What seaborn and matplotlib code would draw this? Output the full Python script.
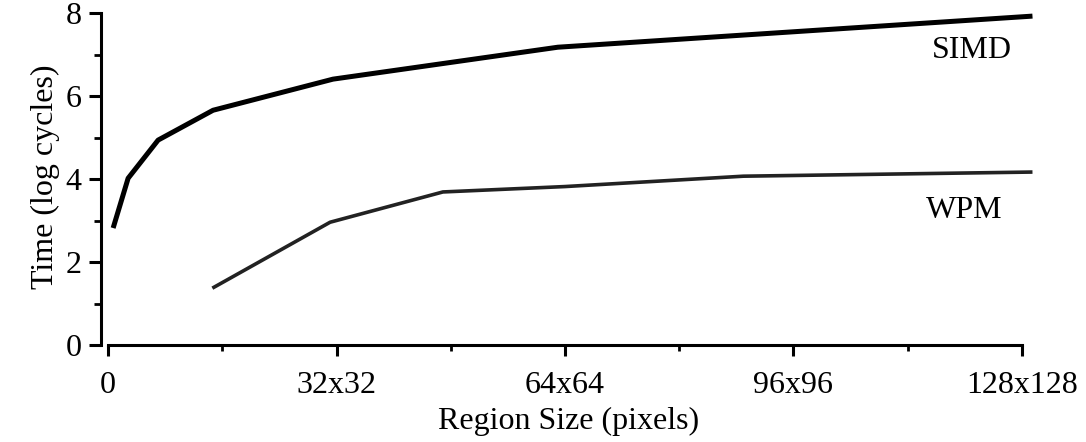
import matplotlib
matplotlib.use("Agg")
import matplotlib.pyplot as plt
from matplotlib.ticker import MultipleLocator, FixedLocator
import pandas as pd
import seaborn as sns

# Execution time (log cycles) versus region side length
simd_size = [0.7, 2.8, 7.0, 14.7, 31.5, 63.0, 129.5]
simd_time = [2.82, 4.02, 4.94, 5.66, 6.41, 7.18, 7.93]

wpm_size = [14.6, 31.1, 46.9, 64.0, 89.0, 129.5]
wpm_time = [1.37, 2.96, 3.69, 3.82, 4.07, 4.17]

x_ticks = [0, 32, 64, 96, 128]
x_tick_labels = ["0", "32x32", "64x64", "96x96", "128x128"]
y_ticks = [0, 2, 4, 6, 8]

sns.set_style("ticks")
plt.rcParams["font.family"] = ["Liberation Serif", "DejaVu Serif"]
plt.rcParams["font.size"] = 23
for key in ("text.color", "axes.labelcolor", "axes.edgecolor",
            "xtick.color", "ytick.color"):
    plt.rcParams[key] = "black"

simd = pd.DataFrame({"size": simd_size, "time": simd_time})
wpm = pd.DataFrame({"size": wpm_size, "time": wpm_time})

fig = plt.figure(figsize=(10.86, 4.42), dpi=100)
ax = fig.add_axes([0.093, 0.2195, 0.861, 0.760])

sns.lineplot(data=simd, x="size", y="time", ax=ax, color="black",
             linewidth=3.6, sort=False, solid_capstyle="butt")
sns.lineplot(data=wpm, x="size", y="time", ax=ax, color="#222222",
             linewidth=2.6, sort=False, solid_capstyle="butt")

ax.set_xlim(-1, 130)
ax.set_ylim(0, 8.1)
ax.spines["left"].set_bounds(0, 8)
ax.spines["bottom"].set_bounds(0, 128)
for side in ("top", "right"):
    ax.spines[side].set_visible(False)
for side in ("left", "bottom"):
    ax.spines[side].set_linewidth(2.2)

ax.xaxis.set_major_locator(FixedLocator(x_ticks))
ax.set_xticklabels(x_tick_labels)
ax.xaxis.set_minor_locator(FixedLocator([16, 48, 80, 112]))
ax.yaxis.set_major_locator(FixedLocator(y_ticks))
ax.yaxis.set_minor_locator(MultipleLocator(1))

ax.tick_params(axis="y", which="major", length=9, width=2.2, pad=5,
               labelsize=23)
ax.tick_params(axis="y", which="minor", length=5, width=2.0)
ax.tick_params(axis="x", which="major", length=8, width=2.2, pad=11,
               labelsize=23)
ax.tick_params(axis="x", which="minor", length=4, width=2.0)

ax.set_xlabel("Region Size (pixels)", fontsize=23, labelpad=5)
ax.set_ylabel("Time (log cycles)", fontsize=23, labelpad=4)

ax.text(121, 7.1, "SIMD", fontsize=23, ha="center", va="center")
ax.text(120, 3.25, "WPM", fontsize=23, ha="center", va="center")

fig.savefig("out.png", dpi=100)
